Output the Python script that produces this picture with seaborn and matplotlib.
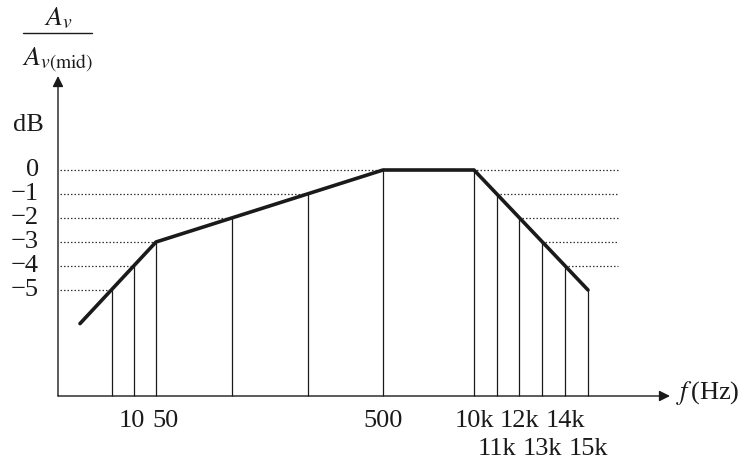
import matplotlib
matplotlib.use("Agg")
import matplotlib.pyplot as plt
import seaborn as sns
import pandas as pd

# ---- data (schematic axis positions, dB values) ----
line_x = [112, 134, 156, 232, 308, 383, 474, 497, 519, 542, 565, 588]
line_db = [-5, -4, -3, -2, -1, 0, 0, -1, -2, -3, -4, -5]
x_labels = ["", "10", "50", "", "", "500", "10k", "11k", "12k", "13k", "14k", "15k"]
label_row = [0, 0, 0, 0, 0, 0, 0, 1, 0, 1, 0, 1]
label_dx = [0, -2, 10, 0, 0, 0, 0, 0, 0, 0, 0, 0]
curve_x = [80, 156, 383, 474, 588]
curve_db = [-6.4, -3, 0, 0, -5]
y_ticks = [0, -1, -2, -3, -4, -5]
y_tick_labels = ["0", "\u22121", "\u22122", "\u22123", "\u22124", "\u22125"]

sns.set_theme(style="white")
plt.rcParams["font.family"] = ["Liberation Serif", "DejaVu Serif"]
plt.rcParams["mathtext.fontset"] = "stix"

W, H = 746, 466
fig = plt.figure(figsize=(W / 100, H / 100), dpi=100)
ax = fig.add_axes([0, 0, 1, 1])
PX = 24.0  # pixels per dB
Y0 = 170   # pixel row of 0 dB
def px2db(y):
    return (Y0 - y) / PX
ax.set_xlim(0, W)
ax.set_ylim(px2db(H), px2db(0))
ax.axis("off")

base = px2db(396)
axis_x = 58
right_end = 618
ink = "#1a1a1a"

# dotted reference lines: from the y axis to the rising curve, and from the falling curve to the right
dot = dict(color="#333333", lw=0.9, linestyle=(0, (1.2, 1.6)))
for d in y_ticks:
    k = -d
    left_i = 5 - k
    right_i = 6 + k
    if d == 0:
        ax.plot([axis_x + 2, right_end], [d, d], **dot)
        continue
    ax.plot([axis_x + 2, line_x[left_i] - 2], [d, d], **dot)
    if d != -5:
        ax.plot([line_x[right_i] + 3, right_end], [d, d], **dot)

# vertical drop lines
ax.vlines(line_x, base, line_db, color=ink, lw=0.9)

# response curve
df = pd.DataFrame({"x": curve_x, "dB": curve_db})
sns.lineplot(data=df, x="x", y="dB", ax=ax, color=ink, lw=2.6, sort=False,
             estimator=None, legend=False)

# axes with arrows
ax.annotate("", xy=(670, base), xytext=(axis_x, base),
            arrowprops=dict(arrowstyle="-|>", color=ink, lw=1.0, mutation_scale=16,
                            shrinkA=0, shrinkB=0))
ax.annotate("", xy=(axis_x, px2db(76)), xytext=(axis_x, base),
            arrowprops=dict(arrowstyle="-|>", color=ink, lw=1.0, mutation_scale=16,
                            shrinkA=0, shrinkB=0))

fs = 19
# y tick labels
for d, lab in zip(y_ticks, y_tick_labels):
    ax.text(39, d, lab, ha="right", va="center", fontsize=fs, color=ink)
ax.text(28, px2db(125), "dB", ha="center", va="center", fontsize=fs, color=ink)

# x tick labels
row_y = [px2db(421), px2db(449)]
for x, lab, r, dx in zip(line_x, x_labels, label_row, label_dx):
    if lab:
        ax.text(x + dx, row_y[r], lab, ha="center", va="center", fontsize=fs, color=ink)
ax.text(676, px2db(393), r"$f\,$(Hz)", ha="left", va="center", fontsize=fs, color=ink)

# y-axis title as fraction
ax.text(58, px2db(19), r"$A_v$", ha="center", va="center", fontsize=fs + 1, color=ink)
ax.plot([23, 92], [px2db(33), px2db(33)], color=ink, lw=1.0)
ax.text(58, px2db(60), r"$A_{v(\mathrm{mid})}$", ha="center", va="center", fontsize=fs + 1, color=ink)

fig.savefig("out.png", dpi=100)
